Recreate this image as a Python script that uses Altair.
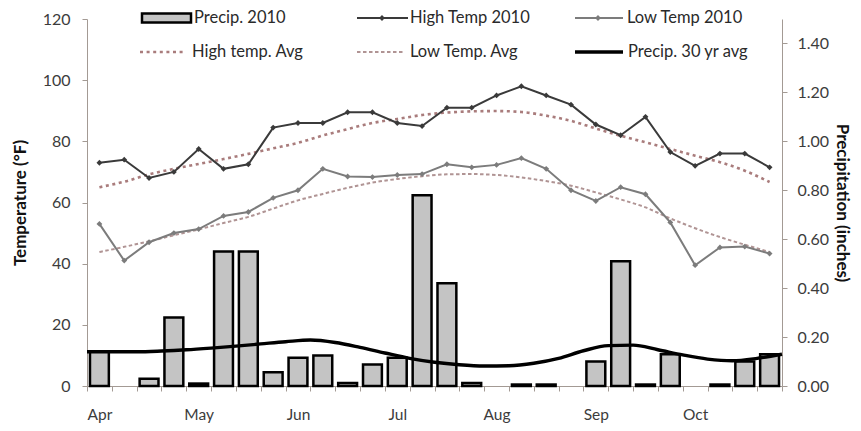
import altair as alt
import pandas as pd

# ---------------- data ----------------
months = ["Apr", "May", "Jun", "Jul", "Aug", "Sep", "Oct"]
week = list(range(28))

high_2010 = [73, 74, 68, 70, 77.5, 71, 72.5, 84.5, 86, 86, 89.5, 89.5, 86, 85,
             91, 91, 95, 98, 95, 92, 85.5, 82, 88, 76.5, 72, 76, 76, 71.5]
low_2010 = [53, 41, 47, 50, 51.3, 55.6, 56.9, 61.5, 64, 71, 68.5, 68.3, 69, 69.3,
            72.5, 71.5, 72.3, 74.5, 71, 64, 60.5, 65, 62.7, 53.5, 39.5, 45.3, 45.6, 43.3]
high_avg = [65, 66.8, 69.2, 71, 72.6, 74.2, 75.9, 77.7, 79.5, 81.9, 84, 86, 87.3, 88.6,
            89.4, 89.8, 89.9, 89.6, 88.4, 86.7, 84.2, 81.8, 79.7, 77.5, 75.3, 73.2, 70.4, 66.7]
low_avg = [43.8, 45.5, 47.3, 49.3, 51.2, 53.3, 55.3, 58, 60.7, 62.8, 64.8, 66.5, 67.7, 68.6,
           69.2, 69.3, 69, 68.2, 67, 65.5, 63.3, 61, 58.4, 54.8, 51.6, 48.7, 46.2, 43.8]
precip_2010 = [0.14, None, 0.03, 0.28, 0.01, 0.55, 0.55, 0.056, 0.115, 0.125, 0.012, 0.088, 0.115, 0.78,
               0.42, 0.012, None, 0.006, 0.006, None, 0.10, 0.51, 0.006, 0.13, None, 0.006, 0.10, 0.13]
# 30-yr average precipitation, sampled at week boundaries (0..28)
precip_avg_edge = list(range(29))
precip_avg = [0.14, 0.14, 0.14, 0.143, 0.148, 0.155, 0.163, 0.172, 0.181, 0.188, 0.178, 0.158, 0.135, 0.113,
              0.097, 0.087, 0.082, 0.083, 0.093, 0.113, 0.144, 0.165, 0.167, 0.148, 0.127, 0.11, 0.103, 0.113, 0.13]

temp_ticks = [0, 20, 40, 60, 80, 100, 120]
precip_ticks = [0, 0.2, 0.4, 0.6, 0.8, 1.0, 1.2, 1.4]

df = pd.DataFrame({"week": week, "high": high_2010, "low": low_2010,
                   "high_avg": high_avg, "low_avg": low_avg, "precip": precip_2010})
df_pavg = pd.DataFrame({"edge": precip_avg_edge, "pavg": precip_avg})

FONT = "Lato"
AXIS_COL = "#a39a94"
LABEL_COL = "#3c3c3c"

x_scale = alt.Scale(domain=[0, 28], nice=False, zero=False)
month_expr = "datum.value % 4 == 0 && datum.value < 28 ? " + str(months) + "[datum.value / 4] : ''"
x_axis = alt.Axis(title=None, values=list(range(29)), labelExpr=month_expr, labelOffset=12.4,
                  labelOverlap=False, labelFlush=False, tickSize=5, labelPadding=16,
                  labelFontSize=15.5,
                  grid=False, domainColor=AXIS_COL, tickColor=AXIS_COL)

t_scale = alt.Scale(domain=[0, 120], nice=False)
t_axis = alt.Axis(title="Temperature (°F)", values=temp_ticks, format="d", grid=False,
                  tickSize=5, labelPadding=12, titlePadding=13, titleFontSize=17,
                  domainColor=AXIS_COL, tickColor=AXIS_COL)
p_scale = alt.Scale(domain=[0, 1.5], nice=False)
p_axis = alt.Axis(title="Precipitation (inches)", orient="right", values=precip_ticks, format=".2f",
                  grid=False, tickSize=5, labelPadding=10, titlePadding=4, titleFontSize=17,
                  domainColor=AXIS_COL, tickColor=AXIS_COL)

base = alt.Chart(df).transform_calculate(xc="datum.week + 0.5")
X = alt.X("xc:Q", scale=x_scale, axis=x_axis)

def temp_line(field, color, dash=None, width=2.0, points=False):
    kw = dict(color=color, strokeWidth=width, interpolate="linear")
    if dash:
        kw["strokeDash"] = dash
        kw["interpolate"] = "monotone"
    if points:
        kw["point"] = alt.OverlayMarkDef(shape="diamond", filled=True, size=34, color=color)
    return base.mark_line(**kw).encode(x=X, y=alt.Y(f"{field}:Q", scale=t_scale, axis=t_axis))

temps = alt.layer(
    temp_line("high_avg", "#a97c7c", dash=[3, 3.6], width=2.6),
    temp_line("low_avg", "#b09494", dash=[3.5, 2.5], width=2.0),
    temp_line("high", "#3a3a3a", width=2.0, points=True),
    temp_line("low", "#7c7c7c", width=2.0, points=True),
)

bars = base.transform_filter("datum.precip != null").transform_calculate(
    x0="datum.week + 0.12", x1="datum.week + 0.88"
).mark_rect(fill="#c4c4c4", stroke="black", strokeWidth=2.5).encode(
    x=alt.X("x0:Q", scale=x_scale, axis=x_axis), x2="x1:Q",
    y=alt.Y("precip:Q", scale=p_scale, axis=p_axis), y2=alt.datum(0),
)
pavg_line = alt.Chart(df_pavg).mark_line(color="black", strokeWidth=3.4, interpolate="monotone").encode(
    x=alt.X("edge:Q", scale=x_scale, axis=x_axis),
    y=alt.Y("pavg:Q", scale=p_scale, axis=p_axis),
)
precip = alt.layer(bars, pavg_line)

main = alt.layer(precip, temps).resolve_scale(y="independent")

# ---------------- legend (3 columns x 2 rows) ----------------
one = alt.Data(values=[{}])
R1, R2 = -1, 33
leg = []
def leg_text(x, y, txt):
    return alt.Chart(one).mark_text(align="left", baseline="middle", font=FONT, fontSize=16.5,
                                    color="#2a2a2a").encode(x=alt.value(x), y=alt.value(y), text=alt.value(txt))
def leg_line(x0, x1, y, color, width, dash=None):
    kw = dict(color=color, strokeWidth=width)
    if dash:
        kw["strokeDash"] = dash
    return alt.Chart(one).mark_rule(**kw).encode(x=alt.value(x0), x2=alt.value(x1), y=alt.value(y))
def leg_diamond(x, y, color):
    return alt.Chart(one).mark_point(shape="diamond", filled=True, size=34, color=color, opacity=1).encode(
        x=alt.value(x), y=alt.value(y))

leg.append(alt.Chart(one).mark_rect(fill="#c4c4c4", stroke="black", strokeWidth=2.5).encode(
    x=alt.value(55), x2=alt.value(104), y=alt.value(R1 - 4.5), y2=alt.value(R1 + 4.5)))
leg.append(leg_text(107, R1, "Precip. 2010"))
leg.append(leg_line(270, 321, R1, "#3a3a3a", 2.0))
leg.append(leg_diamond(295, R1, "#3a3a3a"))
leg.append(leg_text(323, R1, "High Temp 2010"))
leg.append(leg_line(488, 536, R1, "#7c7c7c", 2.0))
leg.append(leg_diamond(511, R1, "#7c7c7c"))
leg.append(leg_text(540, R1, "Low Temp 2010"))
leg.append(leg_line(53, 97, R2, "#a97c7c", 2.6, [3, 3.6]))
leg.append(leg_text(105, R2, "High temp. Avg"))
leg.append(leg_line(270, 318, R2, "#b09494", 2.0, [3.5, 2.5]))
leg.append(leg_text(323, R2, "Low Temp. Avg"))
leg.append(leg_line(488, 536, R2, "black", 3.4))
leg.append(leg_text(541, R2, "Precip. 30 yr avg"))

chart = alt.layer(main, *leg).properties(
    width=695, height=367,
    autosize=alt.AutoSizeParams(type="none"),
    padding={"left": 79, "top": 11, "right": 71, "bottom": 37},
    background="white",
).configure_view(stroke=None).configure_axis(
    labelFont=FONT, labelFontSize=16, labelColor=LABEL_COL,
    titleFont=FONT, titleFontWeight="bold", titleColor="#111111",
)

chart.save("out.html", embed_options={"renderer": "svg", "actions": False})
